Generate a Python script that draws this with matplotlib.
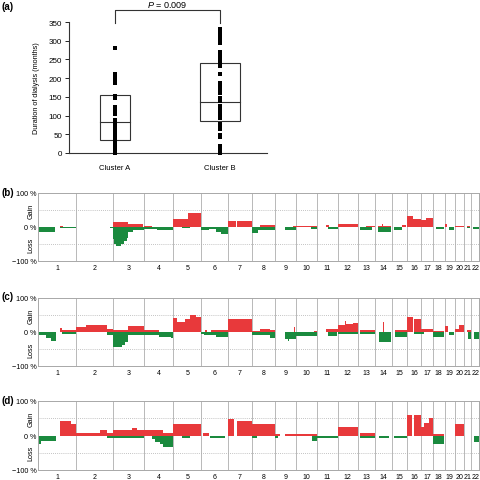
import matplotlib
matplotlib.use('Agg')
import matplotlib.pyplot as plt
from matplotlib.patches import Rectangle
import numpy as np

plt.rcParams.update({
    'font.family': 'Liberation Sans',
    'font.size': 6,
    'mathtext.fontset': 'custom',
    'mathtext.rm': 'Liberation Sans',
    'mathtext.it': 'Liberation Sans:italic',
})

# ---- panel (a): duration of dialysis by cluster ----
clusters = ['Cluster A', 'Cluster B']
cluster_a = [280, 210, 205, 197, 187, 152, 147, 124, 118, 110, 105, 88, 83, 77,
             70, 63, 57, 50, 45, 38, 33, 27, 22, 17, 12, 6, 0]
cluster_b = [332, 323, 313, 304, 295, 270, 260, 253, 246, 239, 233, 211, 187, 180,
             172, 160, 148, 139, 126, 114, 107, 100, 93, 78, 71, 64, 48, 42, 18, 11, 4, 0]
box_a = (35, 82, 155)    # q1, median, q3
box_b = (85, 135, 240)
p_text = '$P$ = 0.009'

# ---- panels (b)-(d): copy number gain/loss frequency ----
chrom_len = [247, 243, 199, 191, 181, 171, 159, 146, 140, 135, 134, 132,
             114, 106, 100, 89, 79, 76, 64, 62, 47, 50]
chrom_names = [str(i) for i in range(1, 23)]

# segments: (start, end, percent); position = chromosome + fraction along it
segs_b = [
    (1.00, 1.44, -15), (1.58, 2.00, -3), (1.58, 1.66, 2), (2.91, 3.00, -2),
    (3.00, 3.49, 15), (3.20, 3.23, 18), (3.49, 3.97, 10),
    (3.00, 3.03, -35), (3.03, 3.10, -50), (3.10, 3.24, -55), (3.24, 3.35, -50),
    (3.35, 3.44, -42), (3.44, 3.49, -32), (3.49, 3.65, -15), (3.65, 4.00, -8),
    (4.00, 4.26, 3), (4.00, 4.43, -5), (4.43, 5.00, -8),
    (5.00, 5.53, 24), (5.53, 6.00, 41), (5.29, 5.59, -3),
    (6.00, 6.31, -10), (6.31, 6.56, -5), (6.56, 6.75, -15), (6.75, 7.00, -20),
    (7.00, 7.35, 18), (7.38, 8.00, 19),
    (8.00, 8.26, -17), (8.26, 9.00, -10), (8.37, 9.00, 5),
    (9.48, 10.00, -10), (9.87, 10.00, 3),
    (10.00, 11.00, 4), (10.73, 11.00, -5), (10.94, 10.98, 10),
    (11.43, 11.59, 5), (11.54, 12.00, -6),
    (12.00, 13.00, 10),
    (13.13, 13.83, -8), (13.44, 14.00, 3),
    (14.15, 14.94, -15), (14.15, 14.94, 3), (14.40, 14.45, 8),
    (15.12, 15.70, -8), (15.65, 15.93, 5),
    (16.00, 16.40, 33), (16.45, 17.00, 25),
    (17.00, 17.40, 20), (17.40, 18.00, 27),
    (18.23, 18.94, -6),
    (19.00, 19.26, 8), (19.42, 19.90, -8),
    (20.08, 21.00, 3),
    (21.35, 21.78, 3), (21.35, 21.78, -2),
    (22.20, 23.00, -7),
]

segs_c = [
    (1.00, 1.22, -10), (1.22, 1.35, -18), (1.35, 1.48, -25),
    (1.58, 1.63, 12), (1.63, 2.00, 5), (1.62, 2.00, -7),
    (2.00, 2.27, 15), (2.27, 2.38, 21), (2.38, 2.82, 22), (2.82, 3.00, 10), (2.82, 3.00, -8),
    (3.00, 3.27, -45), (3.27, 3.38, -38), (3.38, 3.49, -28), (3.00, 3.49, 5),
    (3.49, 4.00, 17), (3.49, 4.00, -8),
    (4.00, 4.50, 5), (4.00, 4.50, -10), (4.50, 4.90, -15), (4.90, 5.00, -18),
    (5.00, 5.12, 40), (5.12, 5.41, 28), (5.41, 5.59, 38), (5.59, 5.82, 50), (5.82, 6.00, 45),
    (6.00, 6.12, -5), (6.12, 6.56, -8), (6.56, 7.00, -15), (6.15, 6.20, 5), (6.38, 7.00, 5),
    (7.00, 7.37, 38), (7.40, 8.00, 38), (7.61, 7.64, 48),
    (8.00, 8.34, 3), (8.34, 8.78, 10), (8.78, 9.00, 5), (8.00, 8.78, -10), (8.78, 9.00, -18),
    (9.48, 10.00, -20), (9.60, 9.65, -25), (9.90, 9.95, 15),
    (10.00, 11.00, -12), (10.85, 11.00, 3),
    (11.46, 12.00, 10), (11.54, 11.95, -12),
    (12.03, 12.44, 20), (12.37, 12.40, 32), (12.44, 12.76, 24), (12.76, 13.00, 27), (12.03, 13.00, -5),
    (13.13, 14.00, 5), (13.13, 14.00, -5),
    (14.21, 14.98, -28), (14.47, 14.50, 30),
    (15.19, 16.00, -15), (15.19, 16.00, 5),
    (16.00, 16.40, 45), (16.52, 17.00, 38), (16.52, 17.00, -5),
    (17.00, 18.00, 10), (17.00, 17.30, -5),
    (18.00, 18.94, -15), (18.00, 18.94, 3),
    (19.00, 19.35, 18), (19.42, 19.90, -8),
    (20.00, 20.50, 10), (20.50, 21.00, 22),
    (21.35, 22.00, 5), (21.48, 22.00, -20),
    (22.40, 23.00, -20),
]

segs_d = [
    (1.00, 1.09, -25), (1.09, 1.47, -15), (1.58, 1.88, 42), (1.88, 2.00, 33),
    (2.00, 2.64, 8), (2.64, 2.82, 15), (2.82, 3.00, 8), (2.82, 3.00, -7),
    (3.00, 3.60, 15), (3.60, 3.76, 23), (3.76, 4.00, 17), (3.00, 4.00, -7),
    (4.00, 4.66, 17), (4.66, 5.00, 8),
    (4.26, 4.38, -10), (4.38, 4.55, -18), (4.55, 4.66, -25), (4.66, 5.00, -33),
    (5.00, 6.00, 33), (5.29, 5.59, -8),
    (6.06, 6.29, 8), (6.34, 6.91, -7),
    (7.00, 7.28, 48), (7.38, 8.00, 42),
    (8.00, 9.00, 33), (8.00, 8.20, -8),
    (9.00, 9.27, 5), (9.00, 9.16, -8), (9.48, 10.00, 5),
    (10.00, 11.00, 5), (10.78, 11.00, -15),
    (11.00, 12.00, -6),
    (12.00, 13.00, 25),
    (13.13, 14.00, 7), (13.13, 14.00, -8),
    (14.21, 14.85, -7), (14.44, 14.47, 25),
    (15.12, 16.00, -7),
    (16.00, 16.36, 58), (16.52, 17.00, 58),
    (17.00, 17.27, 25), (17.27, 17.68, 35), (17.68, 18.00, 50),
    (18.00, 18.94, 5), (18.00, 18.94, -25),
    (20.00, 21.00, 33),
    (22.40, 23.00, -18),
]

W, H = 480, 481
fig = plt.figure(figsize=(W / 100, H / 100), dpi=100)

# ---------------- panel (a) ----------------
ax = fig.add_axes([69 / W, 1 - 154 / H, 198 / W, 131 / H])
ax.set_xlim(0.562, 2.448)
ax.set_ylim(0, 350)
for xc, pts, box, bw in [(1, cluster_a, box_a, 0.286), (2, cluster_b, box_b, 0.38)]:
    q1, med, q3 = box
    ax.add_patch(Rectangle((xc - bw / 2, q1), bw, q3 - q1, fill=False,
                           ec='#333333', lw=0.8))
    ax.plot([xc - bw / 2, xc + bw / 2], [med, med], color='#333333', lw=0.8)
    ax.plot(np.full(len(pts), xc), pts, 's', ms=2.2, color='black', mew=0,
            clip_on=False, zorder=3)
ax.plot([1, 1, 2, 2], [346, 381, 381, 346], color='#333333', lw=0.8, clip_on=False)
ax.text(1.5, 390, p_text, ha='center', va='baseline', fontsize=6.5, clip_on=False)
ax.set_xticks([1, 2])
ax.set_xticklabels(clusters)
ax.set_yticks(np.arange(0, 351, 50))
ax.tick_params(axis='x', length=0, pad=8, labelsize=5.5)
ax.tick_params(axis='y', length=3, width=0.6, pad=2, labelsize=5.8)
ax.set_ylabel('Duration of dialysis (months)', fontsize=5.2)
ax.yaxis.set_label_coords(-0.146, 0.5)
for s in ('top', 'right'):
    ax.spines[s].set_visible(False)
for s in ('left', 'bottom'):
    ax.spines[s].set_color('#333333')
    ax.spines[s].set_linewidth(0.8)
fig.text(2 / W, 1 - 7 / H, '(a)', fontsize=7, fontweight='bold', va='center')

# ---------------- panels (b)-(d) ----------------
offsets = np.concatenate([[0], np.cumsum(chrom_len)])
knots = np.arange(1, 24)
centers = (offsets[:-1] + offsets[1:]) / 2
red, green = '#e8393b', '#1a8a3e'


def cnv_panel(top_px, bot_px, segs, label, label_px):
    ax = fig.add_axes([38 / W, 1 - bot_px / H, 441 / W, (bot_px - top_px) / H])
    s = np.interp([g[0] for g in segs], knots, offsets)
    e = np.interp([g[1] for g in segs], knots, offsets)
    v = np.array([g[2] for g in segs])
    ax.bar(s, v, width=e - s, align='edge', linewidth=0,
           color=[red if x > 0 else green for x in v], zorder=2)
    for b in offsets[1:-1]:
        ax.axvline(b, color='#b8b8b8', lw=0.7, zorder=1)
    for y in (50, -50):
        ax.axhline(y, color='#b0b0b0', lw=0.6, ls=(0, (1, 1.5)), zorder=1)
    ax.set_xlim(0, offsets[-1])
    ax.set_ylim(-100, 100)
    ax.set_yticks([-100, 0, 100])
    ax.set_yticklabels(['\u2212100 %', '0 %', '100 %'], fontsize=5.2)
    ax.set_xticks(centers)
    ax.set_xticklabels(chrom_names, fontsize=5)
    ax.tick_params(axis='y', length=0, pad=1)
    ax.tick_params(axis='x', length=0, pad=2.5)
    for sp in ax.spines.values():
        sp.set_color('#a8a8a8')
        sp.set_linewidth(0.7)
    ax.text(-0.016, 0.75, 'Gain', rotation=90, transform=ax.transAxes,
            ha='center', va='center', fontsize=5.2)
    ax.text(-0.016, 0.25, 'Loss', rotation=90, transform=ax.transAxes,
            ha='center', va='center', fontsize=5.2)
    fig.text(2 / W, 1 - label_px / H, label, fontsize=7, fontweight='bold', va='center')


cnv_panel(194, 262, segs_b, '(b)', 193)
cnv_panel(299, 367, segs_c, '(c)', 297)
cnv_panel(402, 471, segs_d, '(d)', 401)

fig.savefig('out.png', dpi=100)
plt.close(fig)
